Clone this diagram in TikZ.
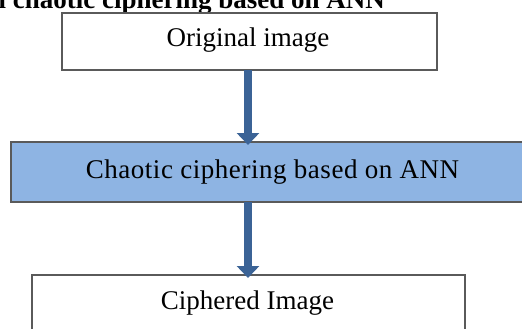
\documentclass[tikz,border=0pt]{standalone}
\usepackage{fontspec}
\setmainfont{Liberation Serif}
\usetikzlibrary{arrows.meta}
\definecolor{boxblue}{HTML}{8EB4E3}
\definecolor{arrowblue}{HTML}{3B6396}
\definecolor{edgegray}{HTML}{5A5A5A}
\tikzset{
  stage/.style={draw=edgegray, line width=1.6pt},
  label/.style={font=\fontsize{27}{30}\selectfont, inner sep=0pt, anchor=base},
  flow/.style={draw=arrowblue, line width=8pt, -{Triangle[width=22pt,length=12pt]}, shorten >=-3pt}
}
\begin{document}
\begin{tikzpicture}[x=1pt,y=-1pt]
\useasboundingbox (0,0) rectangle (522,329);
\clip (0,0) rectangle (522,329);
% title (clipped at top and left)
\node[font=\bfseries\fontsize{27}{30}\selectfont, inner sep=0pt, anchor=base east] (title) at (385,9) {l chaotic ciphering based on ANN};
% boxes
\draw[stage, fill=white] (62,13) rectangle (437,70);
\coordinate (b1s) at (248,70);
\draw[stage, fill=boxblue] (11,142) rectangle (540,202);
\coordinate (b2n) at (248,142);
\coordinate (b2s) at (248,202);
\draw[stage, fill=white] (32,275) rectangle (465,345);
\coordinate (b3n) at (248,275);
% texts
\node[label] (t1) at (248,47) {Original image};
\node[label, font=\fontsize{27}{30}\selectfont\addfontfeatures{LetterSpace=2}] (t2) at (272.5,178) {Chaotic ciphering based on ANN};
\node[label] (t3) at (247.5,309) {Ciphered Image};
% arrows
\draw[flow] (b1s) -- (b2n);
\draw[flow] (b2s) -- (b3n);
\end{tikzpicture}
\end{document}
